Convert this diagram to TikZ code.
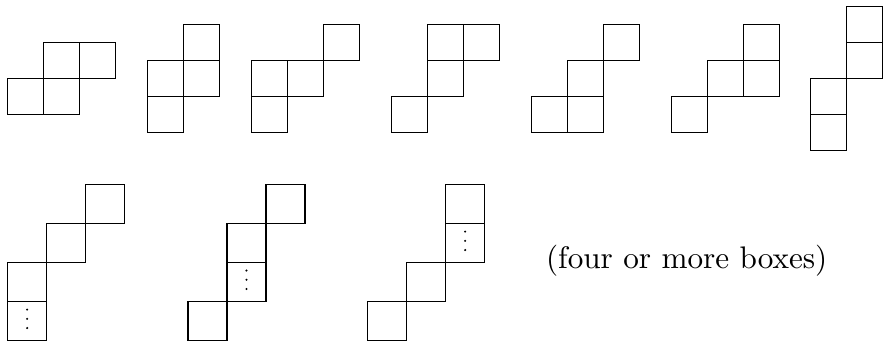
\documentclass[tikz,border=0pt]{standalone}
\usepackage{tikz}

\tikzset{
  cellbox/.style={draw, line width=0.4pt},
  vdot/.style={fill=black}
}

\begin{document}
\begin{tikzpicture}[x=12pt, y=12pt]

    \useasboundingbox (0,0) rectangle (24.528,9.472);

    % size of the boxes in the lower row
    \pgfmathsetmacro{\s}{39/36}
    \pgfmathsetmacro{\dy}{0.256}

    % upper row: shapes of three boxes or four boxes
    \foreach \bx/\by/\cells in {
        0.213/6.296/{0/0,1/0,1/1,2/1},
        4.102/5.796/{0/0,0/1,1/1,1/2},
        6.991/5.796/{0/0,0/1,1/1,2/2},
        10.880/5.796/{0/0,1/1,1/2,2/2},
        14.769/5.796/{0/0,1/0,1/1,2/2},
        18.657/5.796/{0/0,1/1,2/1,2/2},
        22.515/5.296/{0/0,0/1,1/2,1/3}} {
        \foreach \i/\j in \cells {
            \draw[cellbox] ({\bx+\i},{\by+\j}) rectangle ++(1,1);
        }
    }

    % lower row: staircases, one box stands for a column of boxes
    \foreach \bx/\cells/\di/\dj in {
        0.213/{0/0,0/1,1/2,2/3}/0/0,
        5.222/{0/0,1/1,1/2,2/3}/1/1,
        10.213/{0/0,1/1,2/2,2/3}/2/2} {
        \foreach \i/\j in \cells {
            \draw[cellbox] ({\bx+\i*\s},{0.019+\j*\s}) rectangle ++(\s,\s);
        }
        % vertical dots
        \foreach \k in {-1,0,1} {
            \fill[vdot] ({\bx+(\di+0.5)*\s},{0.019+(\dj+0.5)*\s+0.055+\k*\dy}) circle (0.38pt);
        }
    }

    % note
    \node[anchor=base, inner sep=0pt] (note) at (19.075,2.017)
        {\fontsize{10.4pt}{12.5pt}\selectfont (four or more boxes)};

\end{tikzpicture}
\end{document}
